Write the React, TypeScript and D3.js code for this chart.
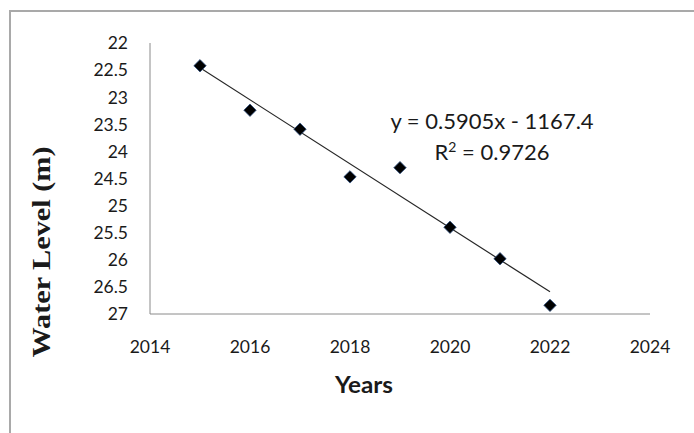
import React from "react";
import * as d3 from "d3";

// Annual water level readings (m)
const years = [2015, 2016, 2017, 2018, 2019, 2020, 2021, 2022];
const waterLevels = [22.42, 23.24, 23.59, 24.47, 24.3, 25.4, 25.98, 26.84];

const xTicks = [2014, 2016, 2018, 2020, 2022, 2024];
const yTicks = [22, 22.5, 23, 23.5, 24, 24.5, 25, 25.5, 26, 26.5, 27];

// Linear trend: y = slope * x + intercept
const slope = 0.5905;
const intercept = -1167.4;
const rSquared = 0.9726;

const W = 694;
const H = 433;

export default function App() {
  const x = d3.scaleLinear().domain([2014, 2024]).range([150, 650]);
  const y = d3.scaleLinear().domain([22, 27]).range([43, 314]);

  const sans = "Lato, 'Open Sans', sans-serif";
  const axisColor = "#8a8a8a";

  const trendX = [years[0], years[years.length - 1]];
  const trend = d3
    .line<number>()
    .x((d) => x(d))
    .y((d) => y(slope * d + intercept));

  const diamond = d3.symbol().type(d3.symbolDiamond2).size(98)();

  return (
    <svg
      width={W}
      height={H}
      style={{ position: "absolute", left: 0, top: 0, background: "#fff" }}
    >
      {/* chart frame */}
      <rect x={10} y={11} width={W + 20} height={H + 20} fill="none" stroke="#a9a9a9" strokeWidth={2} />

      {/* axes */}
      <line x1={x(2014)} x2={x(2014)} y1={y(22)} y2={y(27)} stroke={axisColor} strokeWidth={1} />
      <line x1={x(2014)} x2={x(2024)} y1={y(27)} y2={y(27)} stroke={axisColor} strokeWidth={1} />

      {yTicks.map((t) => (
        <text
          key={t}
          x={128}
          y={y(t)}
          dy="0.36em"
          textAnchor="end"
          fontFamily={sans}
          fontSize={17.5}
          fill="#1a1a1a"
        >
          {t}
        </text>
      ))}
      {xTicks.map((t) => (
        <text
          key={t}
          x={x(t)}
          y={353}
          textAnchor="middle"
          fontFamily={sans}
          fontSize={17.5}
          fill="#1a1a1a"
        >
          {t}
        </text>
      ))}

      {/* axis titles */}
      <text
        x={364}
        y={393}
        textAnchor="middle"
        fontFamily={sans}
        fontWeight="bold"
        fontSize={22}
        textLength={58}
        lengthAdjust="spacingAndGlyphs"
        fill="#1a1a1a"
      >
        Years
      </text>
      <text
        transform={`translate(50,${252}) rotate(-90)`}
        textAnchor="middle"
        fontFamily="'Liberation Serif', 'Times New Roman', serif"
        fontWeight="bold"
        fontSize={25}
        textLength={211}
        lengthAdjust="spacingAndGlyphs"
        fill="#1a1a1a"
      >
        Water Level (m)
      </text>

      {/* trend line */}
      <path d={trend(trendX) ?? ""} fill="none" stroke="#262626" strokeWidth={1.2} />

      {/* observations */}
      {years.map((yr, i) => (
        <path
          key={yr}
          d={diamond ?? ""}
          transform={`translate(${x(yr)},${y(waterLevels[i])})`}
          fill="#000"
          stroke="#2d4f80"
          strokeWidth={0.8}
        />
      ))}

      {/* regression annotation */}
      <text x={492} y={129} textAnchor="middle" fontFamily={sans} fontSize={22} fill="#1a1a1a">
        {`y = ${slope}x - ${Math.abs(intercept)}`}
      </text>
      <text x={492} y={160} textAnchor="middle" fontFamily={sans} fontSize={22} fill="#1a1a1a">
        R<tspan dy={-8} fontSize={14}>2</tspan>
        <tspan dy={8}>{` = ${rSquared}`}</tspan>
      </text>
    </svg>
  );
}
